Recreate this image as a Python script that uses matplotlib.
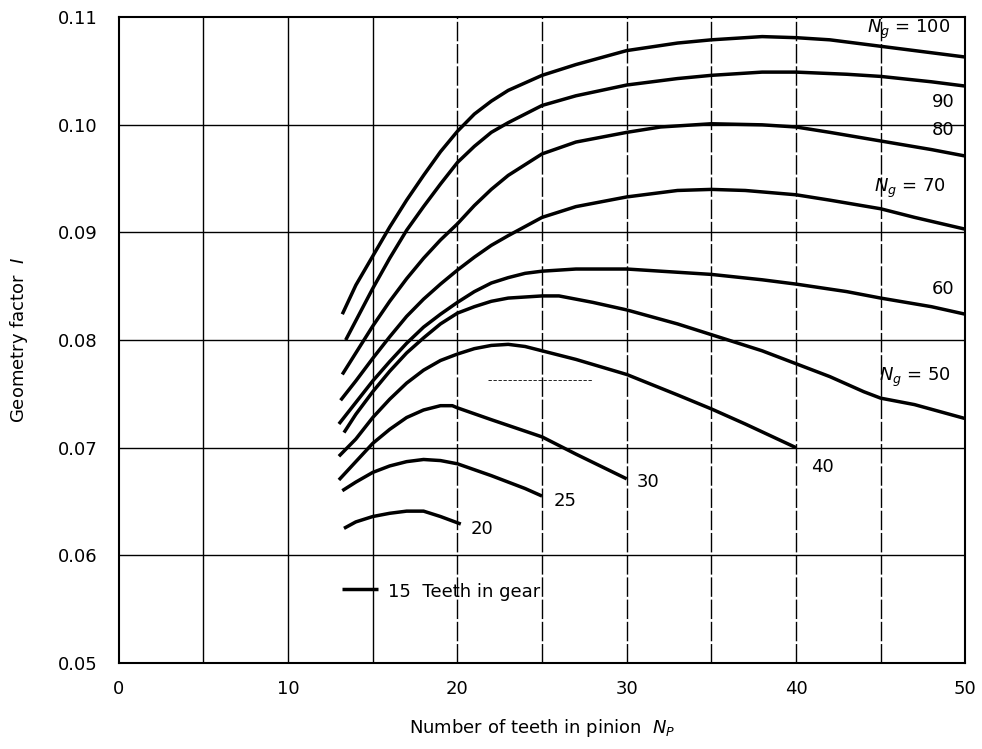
import matplotlib
matplotlib.use("Agg")
import matplotlib.pyplot as plt

plt.rcParams['font.family'] = ['DejaVu Sans']
plt.rcParams['mathtext.fontset'] = 'dejavusans'

# Axes ticks
x_ticks = [0, 10, 20, 30, 40, 50]
y_ticks = [0.05, 0.06, 0.07, 0.08, 0.09, 0.10, 0.11]
y_tick_labels = ['0.05', '0.06', '0.07', '0.08', '0.09', '0.10', '0.11']
grid_x_solid = [5, 10, 15]
grid_x_broken = [20, 25, 30, 35, 40, 45]

# Curves: number of teeth in pinion -> geometry factor, one per gear size
ng100_np = [13.2, 14, 15, 16, 17, 18, 19, 20, 21, 22, 23, 25, 27, 30, 33, 35, 38, 40, 42, 44, 47, 50]
ng100_i = [0.0824, 0.0851, 0.0878, 0.0905, 0.0930, 0.0953, 0.0975, 0.0994, 0.1010, 0.1022, 0.1032,
           0.1046, 0.1056, 0.1069, 0.1076, 0.1079, 0.1082, 0.1081, 0.1079, 0.1075, 0.1069, 0.1063]

ng90_np = [13.4, 14, 15, 16, 17, 18, 19, 20, 21, 22, 23, 25, 27, 30, 33, 35, 38, 40, 43, 45, 48, 50]
ng90_i = [0.0800, 0.0818, 0.0848, 0.0876, 0.0902, 0.0924, 0.0945, 0.0965, 0.0980, 0.0993, 0.1002,
          0.1018, 0.1027, 0.1037, 0.1043, 0.1046, 0.1049, 0.1049, 0.1047, 0.1045, 0.1040, 0.1036]

ng80_np = [13.2, 14, 15, 16, 17, 18, 19, 20, 21, 22, 23, 25, 27, 30, 32, 35, 38, 40, 42, 45, 48, 50]
ng80_i = [0.0768, 0.0788, 0.0813, 0.0836, 0.0857, 0.0876, 0.0893, 0.0908, 0.0925, 0.0940, 0.0953,
          0.0973, 0.0984, 0.0993, 0.0998, 0.1001, 0.1000, 0.0998, 0.0993, 0.0985, 0.0977, 0.0971]

ng70_np = [13.1, 14, 15, 16, 17, 18, 19, 20, 21, 22, 23, 25, 27, 30, 33, 35, 37, 40, 42, 45, 47, 50]
ng70_i = [0.0744, 0.0762, 0.0783, 0.0803, 0.0822, 0.0838, 0.0852, 0.0865, 0.0877, 0.0888, 0.0897,
          0.0914, 0.0924, 0.0933, 0.0939, 0.0940, 0.0939, 0.0935, 0.0930, 0.0922, 0.0914, 0.0903]

ng60_np = [13.0, 14, 15, 16, 17, 18, 19, 20, 21, 22, 23, 24, 25, 27, 30, 33, 35, 38, 40, 43, 45, 48, 50]
ng60_i = [0.0722, 0.0742, 0.0762, 0.0780, 0.0797, 0.0812, 0.0824, 0.0835, 0.0845, 0.0853, 0.0858,
          0.0862, 0.0864, 0.0866, 0.0866, 0.0863, 0.0861, 0.0856, 0.0852, 0.0845, 0.0839, 0.0831, 0.0824]

ng50_np = [13.3, 14, 15, 16, 17, 18, 19, 20, 21, 22, 23, 25, 26, 27, 28, 30, 33, 35, 38, 40, 42, 44, 45, 47, 50]
ng50_i = [0.0714, 0.0731, 0.0752, 0.0771, 0.0788, 0.0802, 0.0815, 0.0825, 0.0831, 0.0836, 0.0839,
          0.0841, 0.0841, 0.0838, 0.0835, 0.0828, 0.0815, 0.0805, 0.0790, 0.0778, 0.0766, 0.0752,
          0.0746, 0.0740, 0.0727]

ng40_np = [13.0, 14, 15, 16, 17, 18, 19, 20, 21, 22, 23, 24, 25, 27, 30, 33, 35, 37, 40]
ng40_i = [0.0692, 0.0708, 0.0728, 0.0745, 0.0760, 0.0772, 0.0781, 0.0787, 0.0792, 0.0795, 0.0796,
          0.0794, 0.0790, 0.0782, 0.0768, 0.0749, 0.0736, 0.0722, 0.0700]

ng30_np = [13.0, 14, 15, 16, 17, 18, 19, 19.7, 20, 22, 25, 27, 30]
ng30_i = [0.0670, 0.0687, 0.0704, 0.0717, 0.0728, 0.0735, 0.0739, 0.0739, 0.0737, 0.0726, 0.0710,
          0.0694, 0.0671]

ng25_np = [13.2, 14, 15, 16, 17, 18, 19, 20, 22, 24, 25]
ng25_i = [0.0660, 0.0668, 0.0677, 0.0683, 0.0687, 0.0689, 0.0688, 0.0685, 0.0674, 0.0662, 0.0655]

ng20_np = [13.3, 14, 15, 16, 17, 18, 19, 20.2]
ng20_i = [0.0625, 0.0631, 0.0636, 0.0639, 0.0641, 0.0641, 0.0636, 0.0629]

ng15_np = [13.2, 15.3]
ng15_i = [0.0569, 0.0569]

curves = [(ng100_np, ng100_i), (ng90_np, ng90_i), (ng80_np, ng80_i), (ng70_np, ng70_i),
          (ng60_np, ng60_i), (ng50_np, ng50_i), (ng40_np, ng40_i), (ng30_np, ng30_i),
          (ng25_np, ng25_i), (ng20_np, ng20_i), (ng15_np, ng15_i)]

fig = plt.figure(figsize=(9.82, 7.49), dpi=100)
ax = fig.add_axes([0.121, 0.115, 0.862, 0.862])
ax.set_xlim(0, 50)
ax.set_ylim(0.05, 0.11)

# Grid, drawn by hand like the scanned chart
for y in y_ticks[1:-1]:
    ax.axhline(y, color='black', lw=1.0, zorder=1)
for x in grid_x_solid:
    ax.axvline(x, color='black', lw=1.0, zorder=1)
for x in grid_x_broken:
    ax.axvline(x, color='black', lw=1.0, dashes=(14, 2), zorder=1)

for xs, ys in curves:
    ax.plot(xs, ys, color='black', lw=2.5, solid_capstyle='butt', solid_joinstyle='round', zorder=3)

# Stray dashed mark in the original
ax.plot([21.8, 28.0], [0.0763, 0.0763], color='black', lw=0.6, ls=(0, (4, 2)), zorder=2)

fs = 13
ax.text(44.2, 0.1089, r'$N_g$ = 100', fontsize=fs, va='center', ha='left', zorder=4)
ax.text(48.0, 0.1021, '90', fontsize=fs, va='center', ha='left')
ax.text(48.0, 0.0995, '80', fontsize=fs, va='center', ha='left')
ax.text(44.6, 0.0941, r'$N_g$ = 70', fontsize=fs, va='center', ha='left')
ax.text(48.0, 0.0847, '60', fontsize=fs, va='center', ha='left')
ax.text(44.9, 0.0765, r'$N_g$ = 50', fontsize=fs, va='center', ha='left')
ax.text(40.9, 0.0682, '40', fontsize=fs, va='center', ha='left')
ax.text(30.6, 0.0668, '30', fontsize=fs, va='center', ha='left')
ax.text(25.7, 0.0650, '25', fontsize=fs, va='center', ha='left')
ax.text(20.8, 0.0624, '20', fontsize=fs, va='center', ha='left')
ax.text(15.9, 0.0566, '15  Teeth in gear', fontsize=fs, va='center', ha='left')

ax.set_xticks(x_ticks)
ax.set_yticks(y_ticks)
ax.set_yticklabels(y_tick_labels)
ax.tick_params(length=0, labelsize=13)
ax.tick_params(axis='x', pad=12)
ax.tick_params(axis='y', pad=15)
for s in ax.spines.values():
    s.set_linewidth(1.5)

ax.set_xlabel(r'Number of teeth in pinion  $N_P$', fontsize=13, labelpad=14)
ax.set_ylabel(r'Geometry factor  $I$', fontsize=13, labelpad=20)

fig.savefig('out.png', dpi=100)
